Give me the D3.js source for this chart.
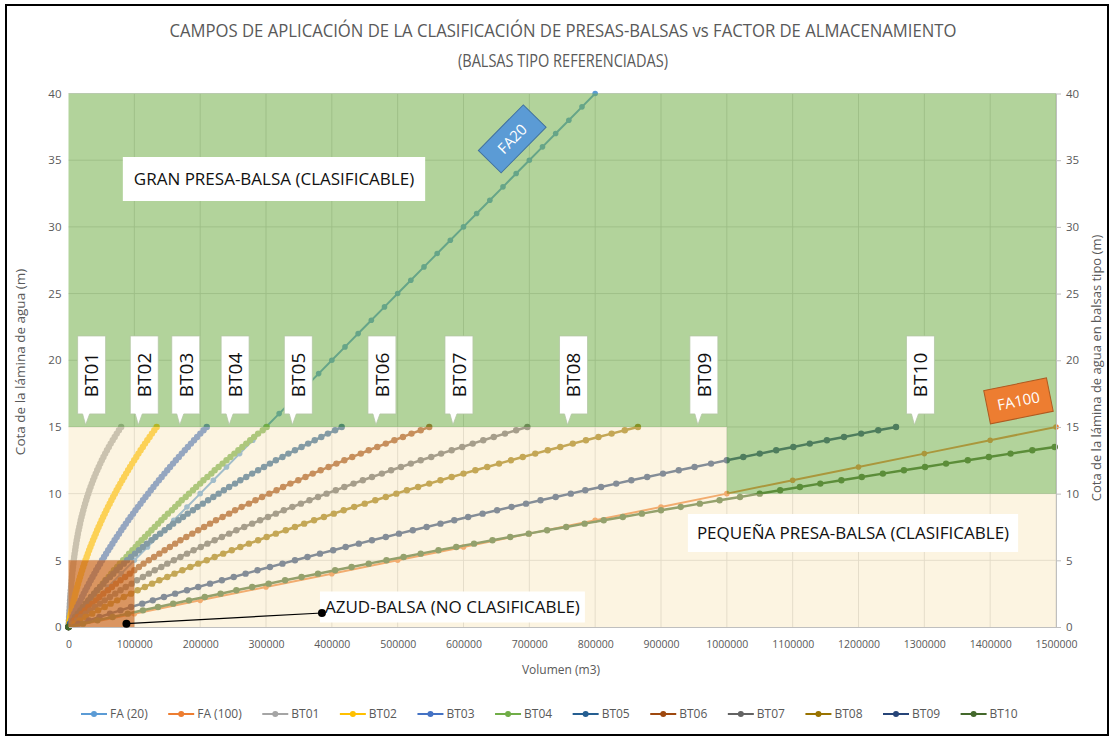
<!DOCTYPE html>
<html>
<head>
<meta charset="utf-8">
<script src="https://cdn.jsdelivr.net/npm/d3@7"></script>
<style>
  body { margin: 0; background: #fff; }
  svg { display: block; }
  text { font-family: "Open Sans", "DejaVu Sans", sans-serif; }
</style>
</head>
<body>
<svg id="chart" width="1114" height="740"></svg>
<script>
// ---------------------------------------------------------------
// Data (volumes in thousands of m3, heights in m)
// ---------------------------------------------------------------
const volumeTicks = [0, 100000, 200000, 300000, 400000, 500000, 600000, 700000, 800000,
  900000, 1000000, 1100000, 1200000, 1300000, 1400000, 1500000];
const heightTicks = [0, 5, 10, 15, 20, 25, 30, 35, 40];

// Water levels at which the reference reservoirs (balsas tipo) are tabulated
const levelsBT = [0, 0.25, 0.5, 0.75, 1, 1.25, 1.5, 1.75, 2, 2.25, 2.5, 2.75, 3, 3.25, 3.5, 3.75,
  4, 4.25, 4.5, 4.75, 5, 5.25, 5.5, 5.75, 6, 6.25, 6.5, 6.75, 7, 7.25, 7.5, 7.75, 8, 8.25, 8.5,
  8.75, 9, 9.25, 9.5, 9.75, 10, 10.25, 10.5, 10.75, 11, 11.25, 11.5, 11.75, 12, 12.25, 12.5,
  12.75, 13, 13.25, 13.5, 13.75, 14, 14.25, 14.5, 14.75, 15];

const bt01Vol = [0, 0.3, 0.6, 0.9, 1.2, 1.5, 1.8, 2.1, 2.4, 2.8, 3.1, 3.5, 3.9, 4.3, 4.8, 5.2,
  5.7, 6.2, 6.8, 7.4, 8.0, 8.6, 9.3, 10.1, 10.8, 11.6, 12.5, 13.4, 14.3, 15.3, 16.4, 17.5, 18.6,
  19.8, 21.1, 22.4, 23.8, 25.2, 26.8, 28.3, 30.0, 31.7, 33.5, 35.4, 37.3, 39.3, 41.4, 43.6, 45.9,
  48.2, 50.6, 53.1, 55.7, 58.4, 61.2, 64.1, 67.1, 70.2, 73.3, 76.6, 80.0];
const bt02Vol = [0, 0.8, 1.7, 2.7, 3.6, 4.7, 5.8, 6.9, 8.0, 9.3, 10.5, 11.8, 13.2, 14.6, 16.1,
  17.6, 19.1, 20.7, 22.3, 24.0, 25.8, 27.6, 29.4, 31.3, 33.2, 35.2, 37.2, 39.3, 41.4, 43.5, 45.7,
  48.0, 50.3, 52.6, 55.0, 57.5, 60.0, 62.5, 65.1, 67.7, 70.4, 73.1, 75.9, 78.7, 81.6, 84.5, 87.5,
  90.5, 93.5, 96.6, 99.8, 103.0, 106.2, 109.5, 112.9, 116.2, 119.7, 123.2, 126.7, 130.3, 133.9];
const bt03Vol = [0, 2.1, 4.2, 6.4, 8.7, 11.0, 13.3, 15.7, 18.1, 20.6, 23.1, 25.7, 28.3, 31.0,
  33.7, 36.5, 39.3, 42.1, 45.0, 48.0, 51.0, 54.0, 57.1, 60.3, 63.5, 66.7, 70.0, 73.3, 76.7, 80.1,
  83.6, 87.1, 90.7, 94.3, 98.0, 101.7, 105.5, 109.3, 113.1, 117.0, 121.0, 125.0, 129.0, 133.1,
  137.3, 141.5, 145.7, 150.0, 154.3, 158.7, 163.1, 167.6, 172.1, 176.7, 181.3, 186.0, 190.7,
  195.4, 200.2, 205.1, 210.0];
const bt04Vol = [0, 4, 8, 11, 15, 19, 23, 27, 31, 35, 39, 44, 48, 52, 56, 61, 65, 69, 74, 78,
  83, 88, 92, 97, 102, 106, 111, 116, 121, 126, 131, 136, 141, 146, 151, 157, 162, 167, 172, 178,
  183, 189, 194, 200, 205, 211, 217, 222, 228, 234, 240, 246, 252, 258, 264, 270, 276, 282, 288,
  295, 301];
const bt05Vol = [0, 3, 7, 10, 14, 18, 22, 26, 30, 34, 39, 43, 48, 53, 57, 63, 68, 73, 78, 84,
  89, 95, 101, 107, 113, 119, 126, 132, 139, 146, 153, 159, 167, 174, 181, 189, 196, 204, 212,
  220, 228, 236, 244, 253, 261, 270, 279, 288, 297, 306, 315, 325, 334, 344, 354, 364, 374, 384,
  394, 405, 415];
const bt06Vol = [0, 5, 9, 14, 20, 25, 30, 36, 42, 47, 53, 60, 66, 72, 79, 86, 93, 100, 107, 114,
  122, 130, 138, 146, 154, 162, 170, 179, 188, 197, 206, 215, 224, 234, 244, 253, 263, 274, 284,
  294, 305, 316, 326, 337, 349, 360, 371, 383, 395, 407, 419, 431, 444, 456, 469, 482, 495, 508,
  521, 535, 548];
const bt07Vol = [0, 6, 13, 19, 26, 33, 40, 48, 55, 63, 71, 79, 87, 96, 104, 113, 122, 131, 141,
  150, 160, 170, 180, 190, 201, 211, 222, 233, 244, 255, 267, 279, 291, 303, 315, 327, 340, 353,
  366, 379, 392, 406, 419, 433, 447, 461, 476, 490, 505, 520, 535, 551, 566, 582, 598, 614, 630,
  646, 663, 680, 697];
const bt08Vol = [0, 9, 17, 26, 36, 45, 55, 64, 74, 84, 95, 105, 116, 127, 138, 150, 161, 173,
  185, 197, 210, 222, 235, 248, 261, 274, 288, 301, 315, 330, 344, 358, 373, 388, 403, 418, 434,
  450, 466, 482, 498, 514, 531, 548, 565, 582, 600, 618, 636, 654, 672, 690, 709, 728, 747, 766,
  786, 805, 825, 845, 865];
const bt09Vol = [0, 15, 31, 47, 63, 79, 95, 112, 128, 145, 162, 180, 197, 215, 233, 251, 269,
  287, 306, 325, 344, 363, 382, 402, 421, 441, 461, 482, 502, 523, 544, 565, 586, 607, 629, 651,
  673, 695, 717, 740, 763, 785, 809, 832, 855, 879, 903, 927, 951, 976, 1000, 1025, 1050, 1075,
  1101, 1126, 1152, 1178, 1204, 1230, 1257];
const bt10Vol = [0, 22, 44, 67, 90, 113, 136, 159, 183, 207, 231, 255, 279, 304, 329, 354, 379,
  405, 430, 456, 483, 509, 535, 562, 589, 616, 644, 671, 699, 727, 756, 784, 813, 842, 871, 900,
  930, 959, 989, 1020, 1050, 1081, 1111, 1142, 1174, 1205, 1237, 1269, 1301, 1333, 1366, 1398,
  1431, 1464, 1498, 1531, 1565, 1599, 1633, 1668, 1703];

// Storage factor reference lines
const faLevels20 = [0, 1, 2, 3, 4, 5, 6, 7, 8, 9, 10, 11, 12, 13, 14, 15, 16, 17, 18, 19, 20,
  21, 22, 23, 24, 25, 26, 27, 28, 29, 30, 31, 32, 33, 34, 35, 36, 37, 38, 39, 40];
const fa20Vol = [0, 20, 40, 60, 80, 100, 120, 140, 160, 180, 200, 220, 240, 260, 280, 300, 320,
  340, 360, 380, 400, 420, 440, 460, 480, 500, 520, 540, 560, 580, 600, 620, 640, 660, 680, 700,
  720, 740, 760, 780, 800];
const faLevels100 = [0, 1, 2, 3, 4, 5, 6, 7, 8, 9, 10, 11, 12, 13, 14, 15];
const fa100Vol = [0, 100, 200, 300, 400, 500, 600, 700, 800, 900, 1000, 1100, 1200, 1300, 1400, 1500];

// Classification zone limits
const zoneVol = [0, 1000, 1000, 1500];
const zoneLimit = [15, 15, 10, 10];
const azudZoneVol = [0, 100];
const azudZoneLevel = [0, 5];
const azudPointerVol = [88, 385];
const azudPointerLevel = [0.25, 1.05];

const seriesNames = ["FA (20)", "FA (100)", "BT01", "BT02", "BT03", "BT04", "BT05", "BT06",
  "BT07", "BT08", "BT09", "BT10"];
const btLabelVol = [26, 106, 169, 244, 340, 467, 584, 758, 956, 1285];

// ---------------------------------------------------------------
// Layout and styles
// ---------------------------------------------------------------
const colors = ["#5b9bd5", "#ed7d31", "#a5a5a5", "#ffc000", "#4472c4", "#70ad47", "#255e91",
  "#9e480e", "#636363", "#997300", "#264478", "#43682b"];
const seriesLevels = [faLevels20, faLevels100, levelsBT, levelsBT, levelsBT, levelsBT, levelsBT,
  levelsBT, levelsBT, levelsBT, levelsBT, levelsBT];
const seriesVol = [fa20Vol, fa100Vol, bt01Vol, bt02Vol, bt03Vol, bt04Vol, bt05Vol, bt06Vol,
  bt07Vol, bt08Vol, bt09Vol, bt10Vol];
const K = 1000; // thousands of m3 -> m3

const svg = d3.select("#chart");
const plot = { left: 68.5, right: 1056, top: 93.5, bottom: 627 };
const x = d3.scaleLinear().domain([0, 1500000]).range([plot.left, plot.right]);
const y = d3.scaleLinear().domain([0, 40]).range([plot.bottom, plot.top]);
const grey = "#595959";

const series = seriesNames.map((name, i) => ({
  name, color: colors[i],
  pts: seriesVol[i].map((v, j) => ({ v: v * K, h: seriesLevels[i][j] }))
}));

svg.append("defs").append("clipPath").attr("id", "plotClip").append("rect")
  .attr("x", plot.left).attr("y", plot.top - 3)
  .attr("width", plot.right - plot.left).attr("height", plot.bottom - plot.top + 6);

// Gridlines
const grid = svg.append("g");
grid.selectAll(".gv").data(volumeTicks.slice(1)).join("line")
  .attr("x1", d => x(d)).attr("x2", d => x(d))
  .attr("y1", plot.top).attr("y2", plot.bottom)
  .attr("stroke", "#d0d0d0").attr("stroke-width", 0.9);
grid.selectAll(".gh").data(heightTicks.slice(1)).join("line")
  .attr("x1", plot.left).attr("x2", plot.right)
  .attr("y1", d => y(d)).attr("y2", d => y(d))
  .attr("stroke", "#d0d0d0").attr("stroke-width", 0.9);

// Curves
const line = d3.line().x(d => x(d.v)).y(d => y(d.h));
const curves = svg.append("g");
series.forEach((s, i) => {
  const fa = i < 2;
  curves.append("path").datum(s.pts)
    .attr("clip-path", "url(#plotClip)")
    .attr("fill", "none").attr("stroke", s.color)
    .attr("stroke-width", fa ? 2 : 2.5).attr("d", line);
  curves.append("g").selectAll("circle")
    .data(s.pts.filter(d => d.v <= 1500000 && d.h <= 40)).join("circle")
    .attr("cx", d => x(d.v)).attr("cy", d => y(d.h))
    .attr("r", fa ? 2.8 : 3.2).attr("fill", s.color);
});

// Classification zones, laid over the curves
const zones = zoneVol.map((v, i) => ({ v: v * K, h: zoneLimit[i] }));
svg.append("path").datum(zones)
  .attr("fill", "#f8e7bc").attr("fill-opacity", 0.45)
  .attr("d", d3.area().x(d => x(d.v)).y0(y(0)).y1(d => y(d.h)));
svg.append("path").datum(zones)
  .attr("fill", "#70ad47").attr("fill-opacity", 0.54)
  .attr("d", d3.area().x(d => x(d.v)).y0(d => y(d.h)).y1(y(40)));
svg.append("rect")
  .attr("x", x(azudZoneVol[0] * K)).attr("y", y(azudZoneLevel[1]))
  .attr("width", x(azudZoneVol[1] * K) - x(azudZoneVol[0] * K))
  .attr("height", y(azudZoneLevel[0]) - y(azudZoneLevel[1]))
  .attr("fill", "#c55a11").attr("fill-opacity", 0.62);

// Axes
const xAxis = svg.append("g").attr("transform", `translate(0,${plot.bottom})`)
  .call(d3.axisBottom(x).tickValues(volumeTicks).tickFormat(d3.format("d"))
    .tickSize(0).tickPadding(14));
xAxis.select(".domain").attr("stroke", "#bfbfbf");
xAxis.selectAll("text").attr("fill", grey).attr("font-size", 10.5)
  .style("font-family", "'Open Sans', sans-serif");

const yAxis = svg.append("g").attr("transform", `translate(${plot.left},0)`)
  .call(d3.axisLeft(y).tickValues(heightTicks).tickSize(0).tickPadding(7));
yAxis.select(".domain").remove();
yAxis.selectAll("text").attr("fill", grey).attr("font-size", 11.5)
  .style("font-family", "'Open Sans', sans-serif");

const y2Axis = svg.append("g").attr("transform", `translate(${plot.right},0)`)
  .call(d3.axisRight(y).tickValues(heightTicks).tickSize(5).tickSizeOuter(0).tickPadding(5));
y2Axis.select(".domain").attr("stroke", "#bfbfbf");
y2Axis.selectAll("line").attr("stroke", "#bfbfbf");
y2Axis.selectAll("text").attr("fill", grey).attr("font-size", 11.5)
  .style("font-family", "'Open Sans', sans-serif");

// Axis titles
svg.append("text").attr("x", 561).attr("y", 674).attr("text-anchor", "middle")
  .attr("font-size", 12).attr("fill", grey).text("Volumen (m3)");
svg.append("text").attr("transform", "translate(25,362) rotate(-90)")
  .attr("text-anchor", "middle").attr("font-size", 13.5).attr("fill", grey)
  .text("Cota de la lámina de agua (m)");
svg.append("text").attr("transform", "translate(1101,368) rotate(-90)")
  .attr("text-anchor", "middle").attr("font-size", 13).attr("fill", grey)
  .text("Cota de la lámina de agua en balsas tipo (m)");

// Title
svg.append("text").attr("x", 563).attr("y", 37).attr("text-anchor", "middle")
  .attr("font-size", 19).attr("fill", grey)
  .attr("textLength", 787).attr("lengthAdjust", "spacingAndGlyphs")
  .text("CAMPOS DE APLICACIÓN DE LA CLASIFICACIÓN DE PRESAS-BALSAS vs FACTOR DE ALMACENAMIENTO");
svg.append("text").attr("x", 563).attr("y", 67).attr("text-anchor", "middle")
  .attr("font-size", 19).attr("fill", grey)
  .attr("textLength", 210).attr("lengthAdjust", "spacingAndGlyphs")
  .text("(BALSAS TIPO REFERENCIADAS)");

// Zone captions on white boxes
function caption(text, cx, cy, padX, boxH, anchor) {
  const g = svg.append("g");
  const t = g.append("text").attr("x", cx).attr("y", cy).attr("dy", "0.36em")
    .attr("text-anchor", anchor).attr("font-size", 17).attr("fill", "#111").text(text);
  const w = t.node().getComputedTextLength();
  const left = anchor === "middle" ? cx - w / 2 : cx;
  g.insert("rect", "text").attr("x", left - padX).attr("y", cy - boxH / 2)
    .attr("width", w + 2 * padX).attr("height", boxH).attr("fill", "#fff");
}
caption("GRAN PRESA-BALSA (CLASIFICABLE)", 274, 179, 11, 44, "middle");
caption("PEQUEÑA PRESA-BALSA (CLASIFICABLE)", 853, 533, 9, 38, "middle");

// Azud pointer and caption
const azud = azudPointerVol.map((v, i) => ({ v: v * K, h: azudPointerLevel[i] }));
caption("AZUD-BALSA (NO CLASIFICABLE)", x(azud[1].v) + 3, 607, 5, 31, "start");
svg.append("path").datum(azud).attr("fill", "none").attr("stroke", "#000")
  .attr("stroke-width", 1.2).attr("d", line);
svg.selectAll(".azudDot").data(azud).join("circle")
  .attr("cx", d => x(d.v)).attr("cy", d => y(d.h)).attr("r", 4).attr("fill", "#000");

// Reservoir callouts (pointing at the 15 m level)
const callouts = svg.append("g");
btLabelVol.forEach((v, i) => {
  const tx = x(v * K), ty = y(15) - 2;
  const left = tx - 8, right = left + 28, bottom = ty - 11, top = bottom - 78;
  callouts.append("path")
    .attr("d", `M${left},${top}H${right}V${bottom}H${tx + 4}L${tx},${ty}L${tx - 3},${bottom}H${left}Z`)
    .attr("fill", "#fff").attr("stroke", "#b4c7a4").attr("stroke-width", 0.8);
  callouts.append("text")
    .attr("transform", `translate(${left + 14},${(top + bottom) / 2}) rotate(-90)`)
    .attr("text-anchor", "middle").attr("dy", "0.36em")
    .attr("font-size", 19).attr("fill", "#111").text(seriesNames[i + 2]);
});

// Storage factor tags, aligned with their lines
function tag(text, fill, stroke, cv, ch, w, h, s) {
  const p0 = s.pts[0], p1 = s.pts[s.pts.length - 1];
  const ang = Math.atan2(y(p1.h) - y(p0.h), x(p1.v) - x(p0.v)) * 180 / Math.PI;
  const g = svg.append("g").attr("transform", `translate(${x(cv * K)},${y(ch)}) rotate(${ang})`);
  g.append("rect").attr("x", -w / 2).attr("y", -h / 2).attr("width", w).attr("height", h)
    .attr("fill", fill).attr("stroke", stroke).attr("stroke-width", 1);
  g.append("text").attr("text-anchor", "middle").attr("dy", "0.36em")
    .attr("font-size", 15).attr("fill", "#fff").text(text);
}
tag("FA20", "#5b9bd5", "#41719c", 674, 36.6, 64, 32, series[0]);
tag("FA100", "#ed7d31", "#ae5a21", 1443, 16.95, 64, 34, series[1]);

// Legend
const legend = svg.append("g");
let lx = 81;
const ly = 714;
series.forEach(s => {
  legend.append("line").attr("x1", lx).attr("x2", lx + 26).attr("y1", ly).attr("y2", ly)
    .attr("stroke", s.color).attr("stroke-width", 2);
  legend.append("circle").attr("cx", lx + 13).attr("cy", ly).attr("r", 3).attr("fill", s.color);
  const t = legend.append("text").attr("x", lx + 29).attr("y", ly).attr("dy", "0.36em")
    .attr("font-size", 12).attr("fill", grey).text(s.name);
  lx += 29 + t.node().getComputedTextLength() + 20.5;
});

// Outer frame
svg.append("rect").attr("x", 6).attr("y", 5).attr("width", 1102).attr("height", 730)
  .attr("fill", "none").attr("stroke", "#000").attr("stroke-width", 2);
</script>
</body>
</html>
